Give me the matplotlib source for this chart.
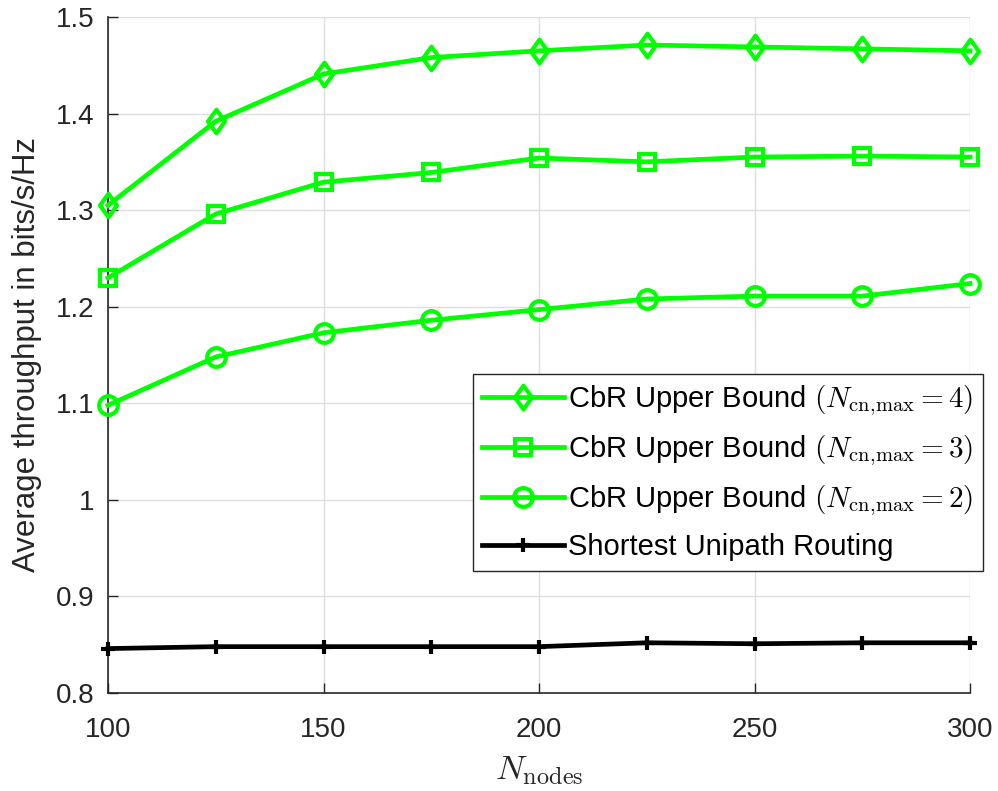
import matplotlib
matplotlib.use("Agg")
import matplotlib.pyplot as plt
import matplotlib.ticker as mticker
from matplotlib.path import Path
import numpy as np

plt.rcParams['font.family'] = ['Liberation Sans', 'DejaVu Sans']
plt.rcParams['mathtext.fontset'] = 'cm'

n_nodes = [100, 125, 150, 175, 200, 225, 250, 275, 300]
cbr_ncn4 = [1.305, 1.392, 1.441, 1.458, 1.465, 1.471, 1.469, 1.467, 1.465]
cbr_ncn3 = [1.230, 1.296, 1.329, 1.339, 1.354, 1.350, 1.355, 1.356, 1.355]
cbr_ncn2 = [1.098, 1.148, 1.173, 1.186, 1.197, 1.208, 1.211, 1.211, 1.224]
shortest_unipath = [0.846, 0.848, 0.848, 0.848, 0.848, 0.852, 0.851, 0.852, 0.852]

labels = [r'CbR Upper Bound $(N_{\mathrm{cn,\!max}}=4)$',
          r'CbR Upper Bound $(N_{\mathrm{cn,\!max}}=3)$',
          r'CbR Upper Bound $(N_{\mathrm{cn,\!max}}=2)$',
          'Shortest Unipath Routing']

green = '#00FF00'
dark = '#262626'

diamond = Path([(0, 1), (0.72, 0), (0, -1), (-0.72, 0), (0, 1)],
               [Path.MOVETO, Path.LINETO, Path.LINETO, Path.LINETO, Path.CLOSEPOLY])

fig = plt.figure(figsize=(9.98, 7.91), dpi=100)
ax = fig.add_axes([108/998, 98/791, 862/998, 676/791])

lw = 3.4
mew = 3.0
ax.plot(n_nodes, cbr_ncn4, color=green, lw=lw, marker=diamond, ms=17,
        mfc='none', mew=mew, label=labels[0], zorder=3, clip_on=False)
ax.plot(n_nodes, cbr_ncn3, color=green, lw=lw, marker='s', ms=11.5,
        mfc='none', mew=mew, label=labels[1], zorder=3, clip_on=False)
ax.plot(n_nodes, cbr_ncn2, color=green, lw=lw, marker='o', ms=13.5,
        mfc='none', mew=mew, label=labels[2], zorder=3, clip_on=False)
ax.plot(n_nodes, shortest_unipath, color='black', lw=lw, marker='+', ms=10,
        mew=3.0, label=labels[3], zorder=3, clip_on=False)

ax.set_xlim(100, 300)
ax.set_ylim(0.8, 1.5)
ax.set_xticks([100, 150, 200, 250, 300])
ax.set_yticks([0.8, 0.9, 1.0, 1.1, 1.2, 1.3, 1.4, 1.5])
ax.yaxis.set_major_formatter(mticker.FuncFormatter(lambda v, p: '%g' % round(v, 2)))

ax.grid(True, which='major', color='#dedede', lw=1.0)
ax.set_axisbelow(True)

for s in ['top', 'right']:
    ax.spines[s].set_visible(False)
for s in ['left', 'bottom']:
    ax.spines[s].set_color(dark)
    ax.spines[s].set_linewidth(1.2)

ax.tick_params(axis='both', which='major', direction='in', length=7, width=1.0,
               colors=dark, labelsize=20, pad=10)
ax.tick_params(axis='x', which='major', pad=17)

ax.set_xlabel(r'$N_{\mathrm{nodes}}$', fontsize=25, color=dark, labelpad=8)
ax.set_ylabel('Average throughput in bits/s/Hz', fontsize=22.5, color=dark, labelpad=10)

leg = ax.legend(loc='upper right', bbox_to_anchor=(983/998, (791-374)/791),
                bbox_transform=fig.transFigure, borderaxespad=0,
                fontsize=21, handlelength=2.8, handletextpad=0.15,
                labelspacing=0.52, borderpad=0.33,
                fancybox=False, framealpha=1, edgecolor=dark)
leg.get_frame().set_linewidth(1.0)

fig.savefig('out.png', dpi=100)
